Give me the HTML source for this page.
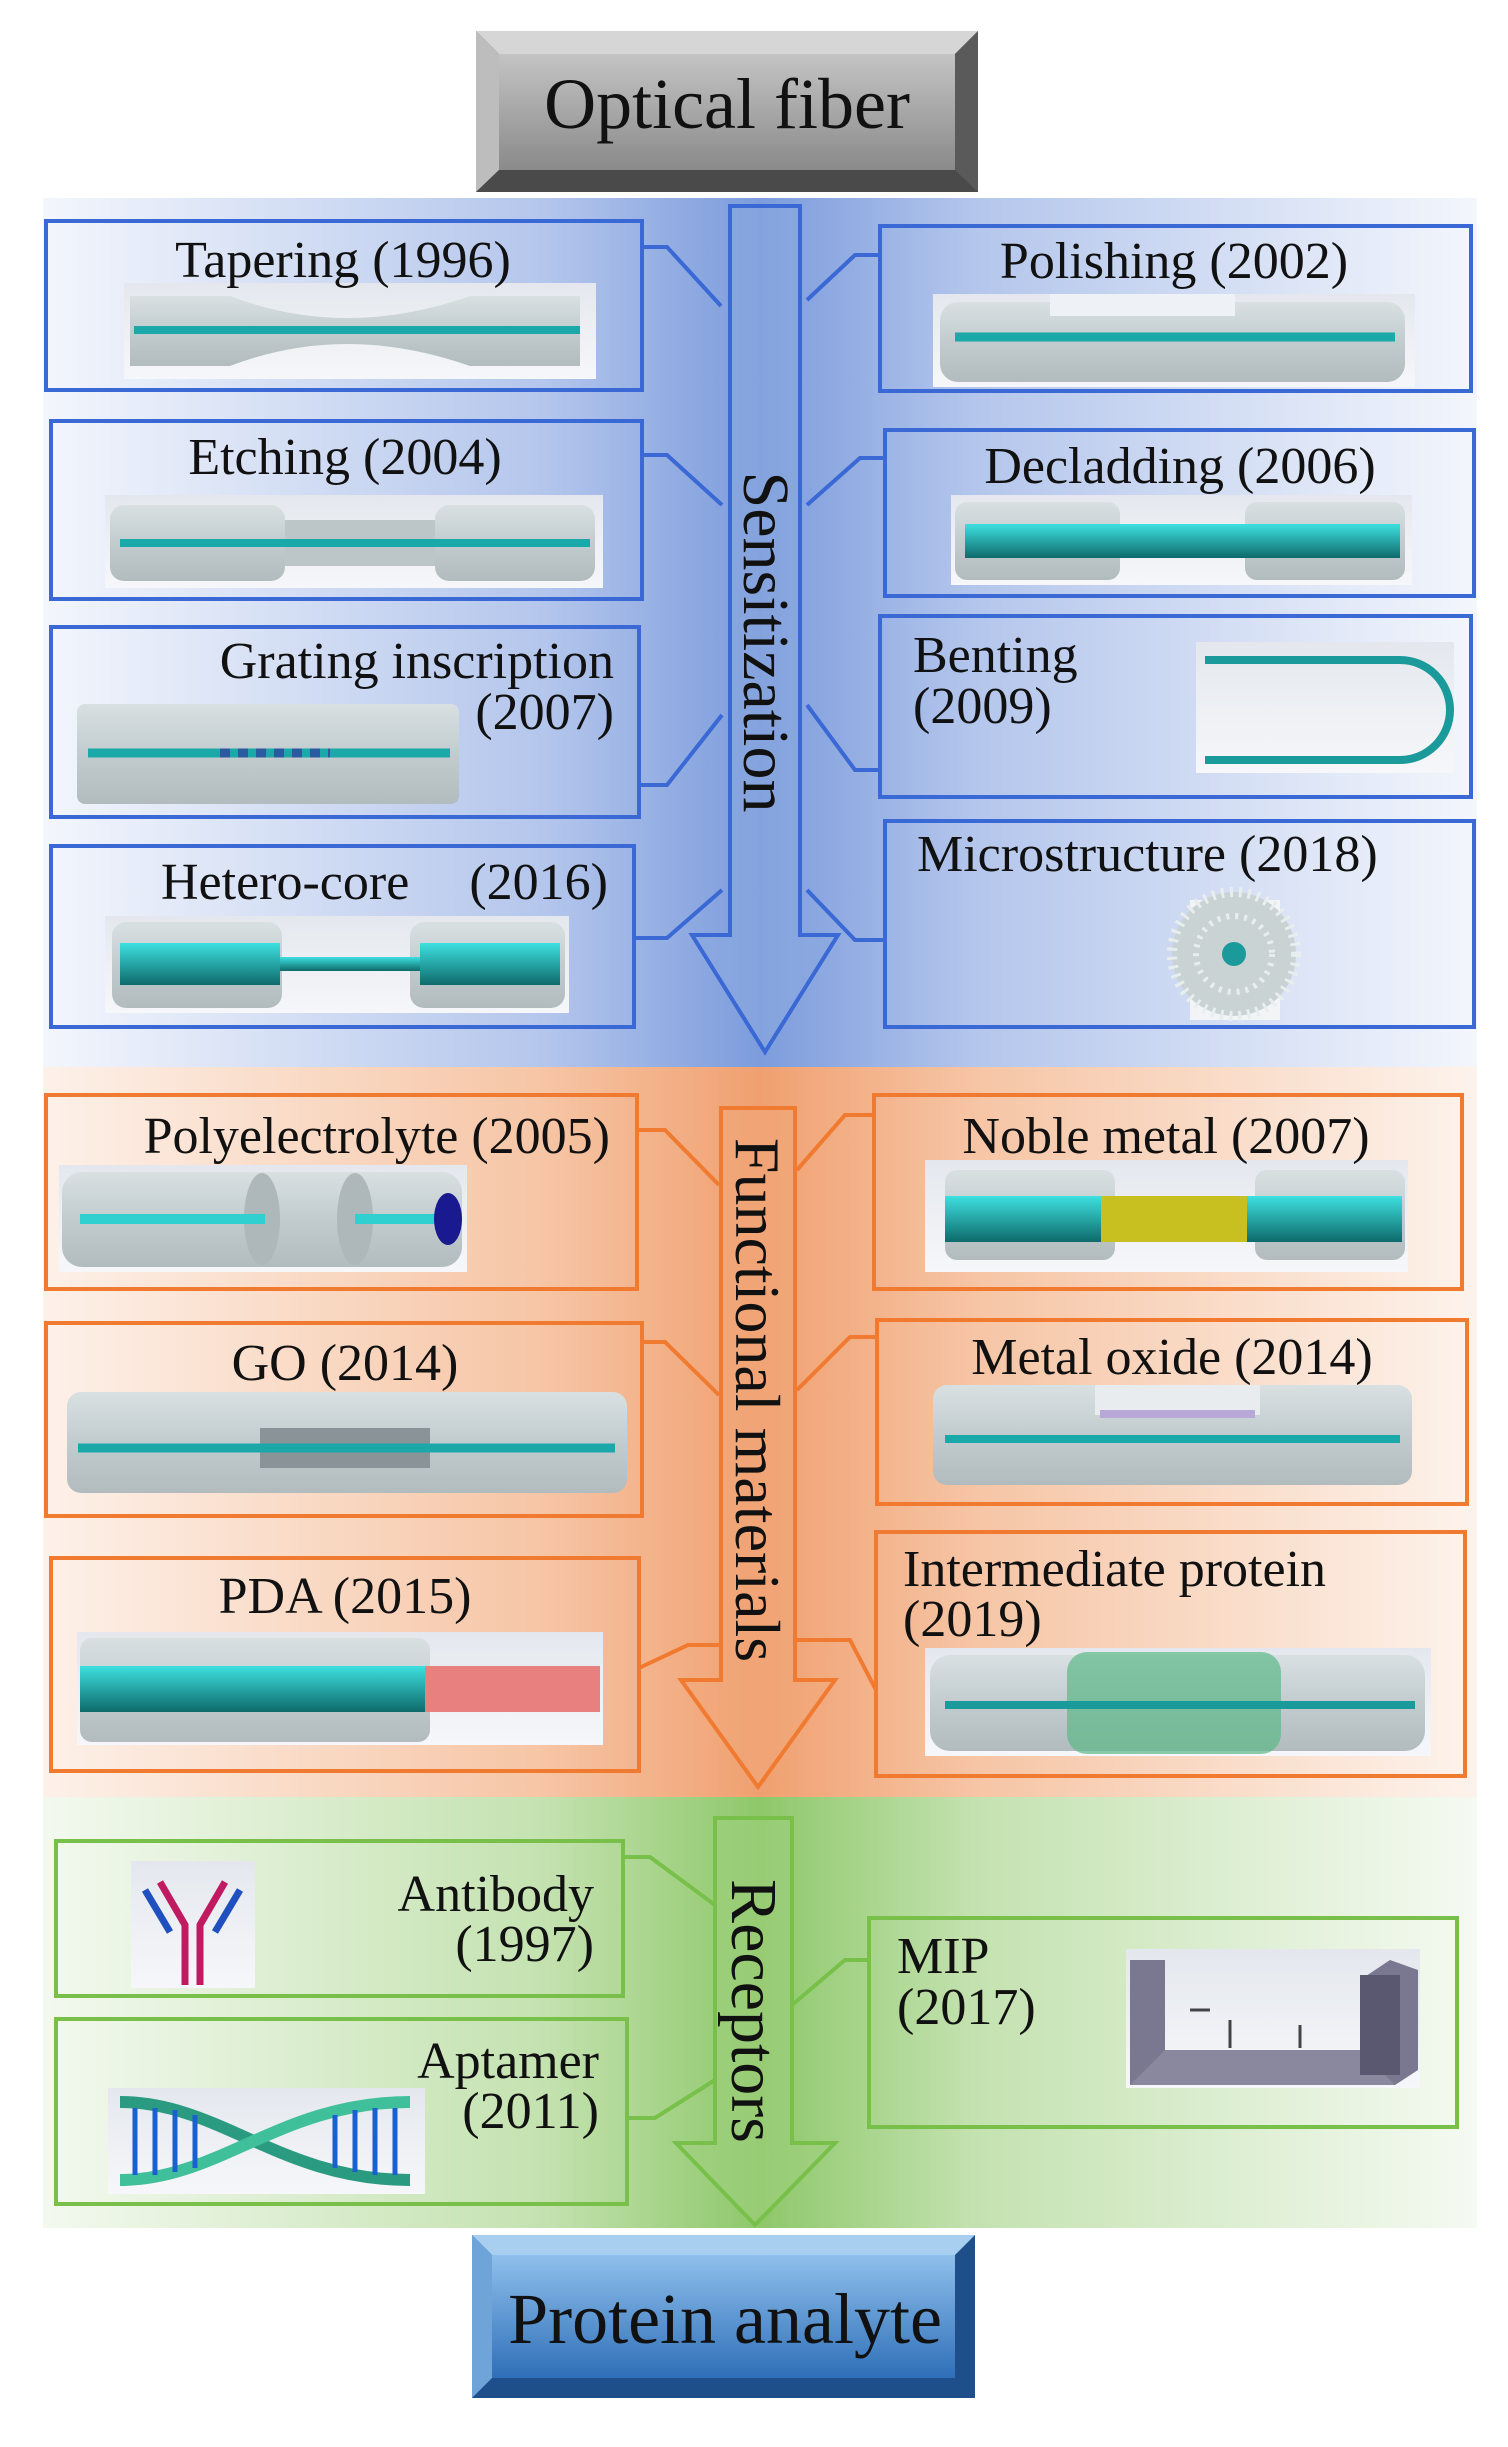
<!DOCTYPE html>
<html><head><meta charset="utf-8"><style>
html,body{margin:0;padding:0;background:#fff}
svg{display:block}
text{font-family:"Liberation Serif",serif;fill:#111}
</style></head><body>
<svg width="1508" height="2447" viewBox="0 0 1508 2447" xmlns="http://www.w3.org/2000/svg">
<defs>
<linearGradient id="gb" x1="0" x2="1"><stop offset="0" stop-color="#f3f6fc"/><stop offset="0.35" stop-color="#b4c6ec"/><stop offset="0.5" stop-color="#7c9cdc"/><stop offset="0.65" stop-color="#b4c6ec"/><stop offset="1" stop-color="#f3f6fc"/></linearGradient>
<linearGradient id="go" x1="0" x2="1"><stop offset="0" stop-color="#fdf1e9"/><stop offset="0.35" stop-color="#f6c5a5"/><stop offset="0.5" stop-color="#f0a070"/><stop offset="0.65" stop-color="#f6c5a5"/><stop offset="1" stop-color="#fdf3ec"/></linearGradient>
<linearGradient id="gg" x1="0" x2="1"><stop offset="0" stop-color="#f3f9ef"/><stop offset="0.35" stop-color="#c4e2b0"/><stop offset="0.5" stop-color="#8ec86a"/><stop offset="0.65" stop-color="#c4e2b0"/><stop offset="1" stop-color="#f5faf2"/></linearGradient>
<linearGradient id="gh" x1="0" y1="0" x2="0" y2="1"><stop offset="0" stop-color="#c4c4c4"/><stop offset="1" stop-color="#8a8a8a"/></linearGradient>
<linearGradient id="gp" x1="0" y1="0" x2="0" y2="1"><stop offset="0" stop-color="#8fc0ec"/><stop offset="1" stop-color="#2f6fb8"/></linearGradient>
<linearGradient id="clad" x1="0" y1="0" x2="0" y2="1"><stop offset="0" stop-color="#d8e0e2"/><stop offset="0.5" stop-color="#c2ccce"/><stop offset="1" stop-color="#b2bcbe"/></linearGradient>
<linearGradient id="core" x1="0" y1="0" x2="0" y2="1"><stop offset="0" stop-color="#3ee0e0"/><stop offset="1" stop-color="#0e6a6a"/></linearGradient>
<linearGradient id="img" x1="0" y1="0" x2="0" y2="1"><stop offset="0" stop-color="#e4e8ee"/><stop offset="1" stop-color="#f6f7fa"/></linearGradient>
</defs>

<rect x="43" y="198" width="1434" height="869" fill="url(#gb)"/>
<rect x="43" y="1067" width="1434" height="730" fill="url(#go)"/>
<rect x="43" y="1797" width="1434" height="431" fill="url(#gg)"/>

<rect x="476" y="31" width="502" height="161" fill="#6a6a6a"/>
<polygon points="476,31 978,31 955,54 499,54" fill="#d6d6d6"/>
<polygon points="476,31 499,54 499,170 476,192" fill="#bdbdbd"/>
<polygon points="978,31 978,192 955,170 955,54" fill="#5a5a5a"/>
<polygon points="476,192 499,170 955,170 978,192" fill="#4a4a4a"/>
<rect x="499" y="54" width="456" height="116" fill="url(#gh)"/>
<text x="727" y="128" font-size="72" text-anchor="middle">Optical fiber</text>

<rect x="472" y="2235" width="503" height="163" fill="#1f4f8a"/>
<polygon points="472,2235 975,2235 955,2255 492,2255" fill="#a9cff0"/>
<polygon points="472,2235 492,2255 492,2378 472,2398" fill="#6ea4d8"/>
<rect x="492" y="2255" width="463" height="123" fill="url(#gp)"/>
<text x="725" y="2343" font-size="72" text-anchor="middle">Protein analyte</text>

<polygon points="730,206 800,206 800,935 838,935 765,1052 692,935 730,935" fill="#8aa8e0" fill-opacity="0.6" stroke="#3a68d4" stroke-width="4"/>
<polygon points="721,1108 795,1108 795,1680 835,1680 758,1787 681,1680 721,1680" fill="#f2a77a" fill-opacity="0.5" stroke="#f07a30" stroke-width="4"/>
<polygon points="715,1818 792,1818 792,2143 835,2143 755,2225 676,2143 715,2143" fill="#9fd07e" fill-opacity="0.5" stroke="#78c04a" stroke-width="4"/>

<text transform="translate(744,642) rotate(90)" font-size="66" text-anchor="middle">Sensitization</text>
<text transform="translate(736,1400) rotate(90)" font-size="64" text-anchor="middle">Functional materials</text>
<text transform="translate(732,2011) rotate(90)" font-size="66" text-anchor="middle">Receptors</text>

<g fill="none" stroke-width="4">
<g stroke="#3a68d4">
<polyline points="642,247 667,247 721,306"/>
<polyline points="642,455 667,455 722,505"/>
<polyline points="639,785 667,785 722,715"/>
<polyline points="634,938 667,938 722,890"/>
<polyline points="880,255 855,255 807,300"/>
<polyline points="885,458 860,458 807,505"/>
<polyline points="880,770 855,770 807,705"/>
<polyline points="885,940 855,940 807,890"/>
</g>
<g stroke="#f07a30">
<polyline points="637,1130 665,1130 719,1185"/>
<polyline points="874,1115 845,1115 797,1170"/>
<polyline points="642,1342 665,1342 719,1395"/>
<polyline points="877,1337 850,1337 797,1390"/>
<polyline points="639,1668 688,1645 719,1645"/>
<polyline points="876,1690 850,1640 797,1640"/>
</g>
<g stroke="#78c04a">
<polyline points="623,1857 650,1857 715,1905"/>
<polyline points="627,2118 655,2118 715,2080"/>
<polyline points="869,1960 845,1960 792,2005"/>
</g>
</g>

<g fill="none" stroke-width="4">
<g stroke="#3a68d4">
<rect x="46" y="221" width="596" height="169"/>
<rect x="51" y="421" width="591" height="178"/>
<rect x="51" y="627" width="588" height="190"/>
<rect x="51" y="846" width="583" height="181"/>
<rect x="880" y="226" width="591" height="165"/>
<rect x="885" y="430" width="589" height="166"/>
<rect x="880" y="616" width="591" height="181"/>
<rect x="885" y="821" width="589" height="206"/>
</g>
<g stroke="#f07a30">
<rect x="46" y="1095" width="591" height="194"/>
<rect x="874" y="1095" width="588" height="194"/>
<rect x="46" y="1323" width="596" height="193"/>
<rect x="877" y="1320" width="590" height="184"/>
<rect x="51" y="1558" width="588" height="213"/>
<rect x="876" y="1532" width="589" height="244"/>
</g>
<g stroke="#78c04a">
<rect x="56" y="1841" width="567" height="155"/>
<rect x="56" y="2019" width="571" height="185"/>
<rect x="869" y="1918" width="588" height="209"/>
</g>
</g>

<g>
<rect x="124" y="283" width="472" height="96" fill="url(#img)"/>
<path d="M130,296 H230 Q345,340 470,296 H580 V366 H470 Q345,322 230,366 H130Z" fill="url(#clad)"/>
<line x1="134" y1="330" x2="580" y2="330" stroke="#1aa8a8" stroke-width="8"/>
<rect x="105" y="495" width="498" height="93" fill="url(#img)"/>
<rect x="110" y="505" width="175" height="76" rx="14" fill="url(#clad)"/>
<rect x="285" y="520" width="150" height="46" fill="#bcc6c8"/>
<rect x="435" y="505" width="160" height="76" rx="14" fill="url(#clad)"/>
<line x1="120" y1="543" x2="590" y2="543" stroke="#1aa8a8" stroke-width="8"/>
<rect x="77" y="704" width="382" height="100" fill="url(#clad)" rx="8"/>
<line x1="88" y1="753" x2="450" y2="753" stroke="#1aa8a8" stroke-width="9"/>
<line x1="220" y1="753" x2="330" y2="753" stroke="#2a5aa0" stroke-width="9" stroke-dasharray="10 8"/>
<rect x="105" y="916" width="464" height="97" fill="url(#img)"/>
<rect x="112" y="922" width="170" height="86" rx="14" fill="url(#clad)"/>
<rect x="410" y="922" width="155" height="86" rx="14" fill="url(#clad)"/>
<rect x="120" y="943" width="160" height="42" fill="url(#core)"/>
<rect x="280" y="957" width="140" height="14" fill="url(#core)"/>
<rect x="420" y="943" width="140" height="42" fill="url(#core)"/>
<rect x="933" y="294" width="482" height="93" fill="url(#img)"/>
<rect x="940" y="302" width="465" height="80" rx="18" fill="url(#clad)"/>
<rect x="1050" y="294" width="185" height="22" fill="#eef1f5"/>
<line x1="955" y1="337" x2="1395" y2="337" stroke="#1aa8a8" stroke-width="9"/>
<rect x="951" y="495" width="461" height="90" fill="url(#img)"/>
<rect x="955" y="502" width="165" height="78" rx="12" fill="url(#clad)"/>
<rect x="1245" y="502" width="160" height="78" rx="12" fill="url(#clad)"/>
<rect x="965" y="524" width="435" height="34" fill="url(#core)"/>
<rect x="1196" y="642" width="258" height="131" fill="url(#img)"/>
<path d="M1205,660 H1400 A50,50 0 0 1 1400,760 H1205" fill="none" stroke="#1a9a9a" stroke-width="8"/>
<rect x="1190" y="900" width="90" height="120" fill="#f2f4f6"/>
<circle cx="1234" cy="954" r="62" fill="#c9d3d4"/>
<circle cx="1234" cy="954" r="62" fill="none" stroke="#e8eeee" stroke-width="10" stroke-dasharray="3 6"/>
<circle cx="1234" cy="954" r="38" fill="none" stroke="#e8eeee" stroke-width="6" stroke-dasharray="3 6"/>
<circle cx="1234" cy="954" r="12" fill="#1a9a9a"/>
<rect x="59" y="1165" width="408" height="107" fill="url(#img)"/>
<rect x="62" y="1172" width="400" height="95" rx="20" fill="url(#clad)"/>
<ellipse cx="262" cy="1219" rx="18" ry="46" fill="#aeb8ba"/>
<ellipse cx="355" cy="1219" rx="18" ry="46" fill="#aeb8ba"/>
<line x1="80" y1="1219" x2="265" y2="1219" stroke="#30d0d0" stroke-width="10"/>
<line x1="355" y1="1219" x2="440" y2="1219" stroke="#30d0d0" stroke-width="10"/>
<ellipse cx="448" cy="1219" rx="14" ry="26" fill="#1a1a90"/>
<rect x="925" y="1160" width="483" height="112" fill="url(#img)"/>
<rect x="945" y="1170" width="170" height="90" rx="12" fill="url(#clad)"/>
<rect x="1255" y="1170" width="150" height="90" rx="12" fill="url(#clad)"/>
<rect x="945" y="1196" width="158" height="46" fill="url(#core)"/>
<rect x="1101" y="1196" width="146" height="46" fill="#c8c020"/>
<rect x="1247" y="1196" width="155" height="46" fill="url(#core)"/>
<rect x="67" y="1392" width="560" height="101" fill="url(#clad)" rx="14"/>
<rect x="260" y="1428" width="170" height="40" fill="#8a9498"/>
<line x1="78" y1="1448" x2="615" y2="1448" stroke="#1aa8a8" stroke-width="9"/>
<rect x="933" y="1385" width="479" height="100" fill="url(#clad)" rx="14"/>
<rect x="1095" y="1385" width="165" height="30" fill="#e8ecef"/>
<rect x="1100" y="1410" width="155" height="8" fill="#b8a8d8"/>
<line x1="945" y1="1439" x2="1400" y2="1439" stroke="#1aa8a8" stroke-width="8"/>
<rect x="77" y="1632" width="526" height="113" fill="url(#img)"/>
<rect x="80" y="1638" width="350" height="104" rx="12" fill="url(#clad)"/>
<rect x="80" y="1666" width="345" height="46" fill="url(#core)"/>
<rect x="425" y="1666" width="175" height="46" fill="#e88080"/>
<rect x="925" y="1648" width="506" height="108" fill="url(#img)"/>
<rect x="930" y="1655" width="495" height="96" rx="20" fill="url(#clad)"/>
<rect x="1067" y="1652" width="214" height="102" rx="20" fill="#5cb888" fill-opacity="0.7"/>
<line x1="945" y1="1705" x2="1415" y2="1705" stroke="#1a9a9a" stroke-width="8"/>
<rect x="131" y="1861" width="124" height="127" fill="url(#img)"/>
<path d="M160,1882 L185,1925 V1985 M225,1882 L200,1925 V1985" fill="none" stroke="#c01a60" stroke-width="7"/>
<path d="M145,1890 L170,1932 M240,1890 L215,1932" fill="none" stroke="#2050c0" stroke-width="7"/>
<rect x="108" y="2088" width="317" height="106" fill="url(#img)"/>
<path d="M120,2102 C220,2102 280,2180 410,2180" fill="none" stroke="#2a9a80" stroke-width="12"/>
<path d="M120,2180 C220,2180 280,2102 410,2102" fill="none" stroke="#40c09a" stroke-width="12"/>
<g stroke="#1a60d0" stroke-width="5">
<line x1="135" y1="2108" x2="135" y2="2175"/><line x1="155" y1="2108" x2="155" y2="2175"/><line x1="175" y1="2110" x2="175" y2="2172"/><line x1="195" y1="2115" x2="195" y2="2168"/>
<line x1="335" y1="2115" x2="335" y2="2168"/><line x1="355" y1="2110" x2="355" y2="2172"/><line x1="375" y1="2108" x2="375" y2="2175"/><line x1="395" y1="2108" x2="395" y2="2175"/>
</g>
<rect x="1126" y="1949" width="294" height="139" fill="url(#img)"/>
<polygon points="1130,1960 1165,1960 1165,2050 1360,2050 1360,1980 1390,1960 1418,1970 1418,2070 1395,2085 1130,2085" fill="#7a7890"/>
<polygon points="1165,2050 1360,2050 1395,2085 1130,2085" fill="#8a889e"/>
<rect x="1360" y="1975" width="40" height="100" fill="#5a5870"/>
<line x1="1190" y1="2010" x2="1210" y2="2010" stroke="#444" stroke-width="3"/>
<line x1="1230" y1="2020" x2="1230" y2="2048" stroke="#444" stroke-width="3"/>
<line x1="1300" y1="2025" x2="1300" y2="2048" stroke="#444" stroke-width="3"/>
</g>

<g font-size="52">
<text x="343" y="277" text-anchor="middle">Tapering (1996)</text>
<text x="345" y="474" text-anchor="middle">Etching (2004)</text>
<text x="614" y="678" text-anchor="end">Grating inscription</text>
<text x="614" y="729" text-anchor="end">(2007)</text>
<text x="161" y="899">Hetero-core</text>
<text x="608" y="899" text-anchor="end">(2016)</text>
<text x="1174" y="278" text-anchor="middle">Polishing (2002)</text>
<text x="1180" y="483" text-anchor="middle">Decladding (2006)</text>
<text x="913" y="672">Benting</text>
<text x="913" y="723">(2009)</text>
<text x="917" y="871">Microstructure (2018)</text>
<text x="610" y="1153" text-anchor="end">Polyelectrolyte (2005)</text>
<text x="1166" y="1153" text-anchor="middle">Noble metal (2007)</text>
<text x="345" y="1380" text-anchor="middle">GO (2014)</text>
<text x="1172" y="1374" text-anchor="middle">Metal oxide (2014)</text>
<text x="345" y="1613" text-anchor="middle">PDA (2015)</text>
<text x="903" y="1586">Intermediate protein</text>
<text x="903" y="1636">(2019)</text>
<text x="594" y="1911" text-anchor="end">Antibody</text>
<text x="594" y="1961" text-anchor="end">(1997)</text>
<text x="599" y="2078" text-anchor="end">Aptamer</text>
<text x="599" y="2128" text-anchor="end">(2011)</text>
<text x="897" y="1973">MIP</text>
<text x="897" y="2024">(2017)</text>
</g>
</svg>
</body></html>
